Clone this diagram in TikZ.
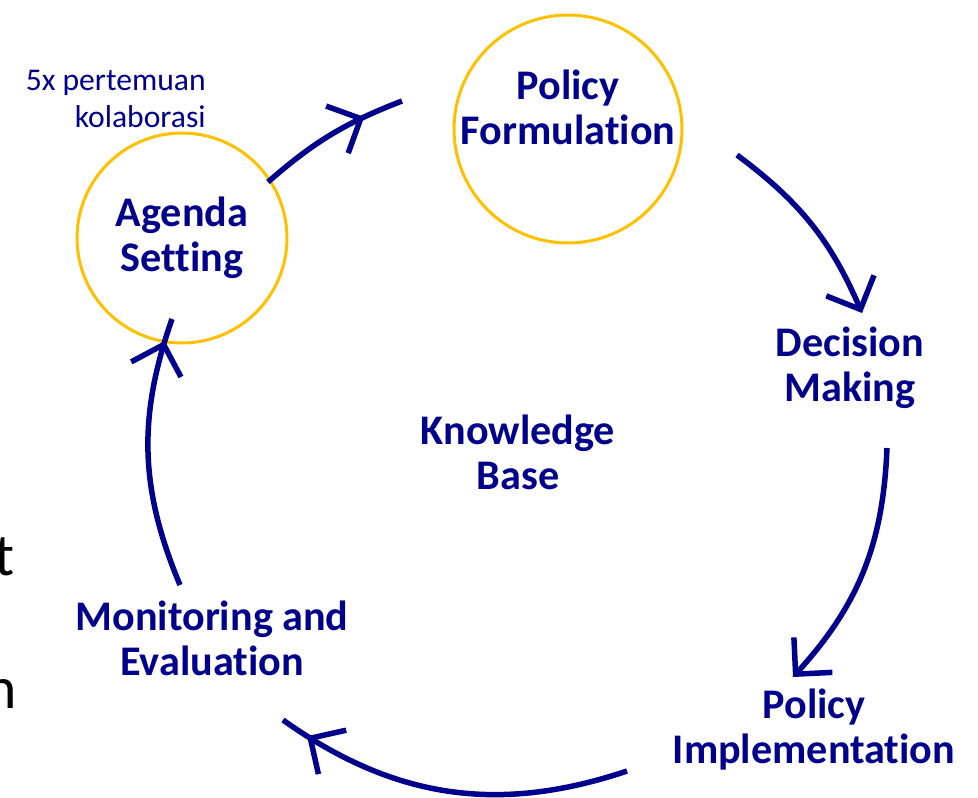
\documentclass[tikz,border=0pt]{standalone}
\usepackage{fontspec}
\setmainfont{Carlito}[Ligatures=NoCommon]
\usetikzlibrary{arrows.meta,positioning,decorations.markings}
\definecolor{siklusbiru}{RGB}{0,0,140}
\definecolor{siklusemas}{RGB}{255,192,0}
\tikzset{
    %Define standard arrow tip
    >={Straight Barb[length=0.52cm,width=1.04cm]},
    %Define style for stage labels
    tahap/.style={
           text=siklusbiru,
           font=\fontsize{24}{25.6}\selectfont\bfseries,
           align=center,
           inner sep=0pt},
    %Define style for the yellow rings
    lingkar/.style={
           circle,
           draw=siklusemas, line width=0.06cm},
    % Define arrow style
    pil/.style={
           ->,
           color=siklusbiru,
           line width=0.11cm},
    % arrow whose tip sits a bit before the end
    piltengah/.style={
           color=siklusbiru,
           line width=0.11cm,
           postaction={decorate},
           decoration={markings,
               mark=at position -#1 with {\arrow{>}}}}
}

\begin{document}
\begin{tikzpicture}[x=0.02cm, y=-0.02cm]
\clip (0,0) rectangle (978,798);
% rings
\node[lingkar, minimum size=4.56cm](rpf) at (568,129){};
\node[lingkar, minimum size=4.2cm](ras) at (182,238){};
% stages
\node[tahap](pf) at (568,107){Policy\\Formulation};
\node[tahap](as) at (182,238){Agenda\\Setting};
\node[tahap](dm) at (850,368){Decision\\Making};
\node[tahap](kb) at (518,452){Knowledge\\Base};
\node[tahap](pi) at (814,730){Policy\\Implementation};
\node[tahap](me) at (212,638){Monitoring and\\Evaluation};
\node[text=siklusbiru, font=\fontsize{18}{21}\selectfont, align=right,
      inner sep=0pt, anchor=base east](note) at (206,127){5x pertemuan\\kolaborasi};
% cut-off words at the left edge
\node[font=\fontsize{34}{40}\selectfont, inner sep=0pt, anchor=base east](t1) at (15,575){t};
\node[font=\fontsize{34}{40}\selectfont, inner sep=0pt, anchor=base east](t2) at (17,708){n};
% arrow ends
\coordinate (a1s) at (268,182);
\coordinate (a1e) at (402,101);
\coordinate (a2s) at (737,155);
\coordinate (a2e) at (862,313);
\coordinate (a3s) at (887,448);
\coordinate (a3e) at (793,677);
\coordinate (a4s) at (627,771);
\coordinate (a4e) at (283,720);
\coordinate (a5s) at (180,585);
\coordinate (a5e) at (172,319);
% cycle
\draw[piltengah=0.82cm] (a1s) to[bend left=10] (a1e);
\draw[pil] (a2s) to[bend left=15] (a2e);
\draw[pil] (a3s) to[bend left=20] (a3e);
\draw[piltengah=0.58cm] (a4s) to[bend left=27] (a4e);
\draw[piltengah=0.46cm] (a5s) to[bend left=21] (a5e);
\end{tikzpicture}
\end{document}
